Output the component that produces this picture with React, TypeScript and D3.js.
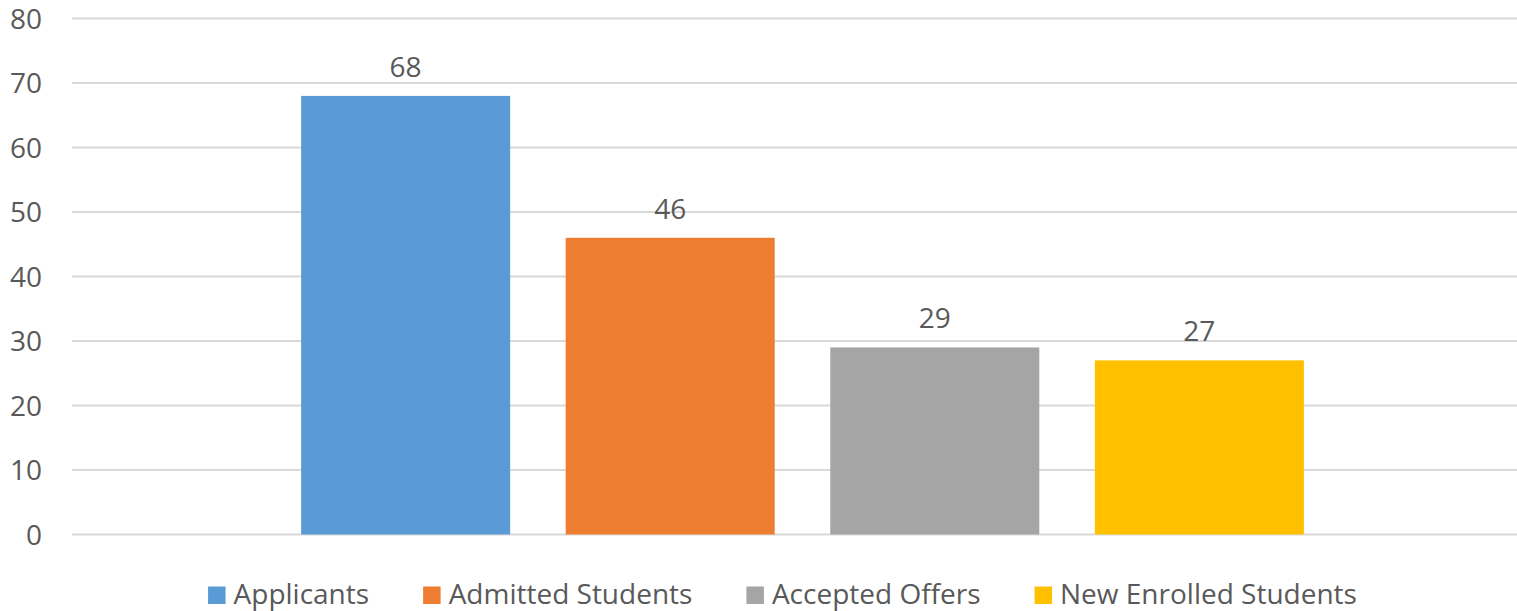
import React, { useEffect, useRef } from "react";
import * as d3 from "d3";

const seriesNames = ["Applicants", "Admitted Students", "Accepted Offers", "New Enrolled Students"];
const seriesValues = [68, 46, 29, 27];
const seriesColors = ["#5B9BD5", "#ED7D31", "#A5A5A5", "#FFC000"];
const yTicks = [0, 10, 20, 30, 40, 50, 60, 70, 80];

const W = 1517;
const H = 611;
const FONT = "'Open Sans', Lato, sans-serif";
const FS = 28;
const TEXT = "#595959";

export default function App() {
  const ref = useRef<SVGSVGElement | null>(null);

  useEffect(() => {
    document.body.style.margin = "0";
    const svg = d3.select(ref.current);
    svg.selectAll("*").remove();

    const plotLeft = 72;
    const plotRight = 1533;
    const y = d3.scaleLinear().domain([0, 80]).range([534.5, 18.5]);
    const x = d3
      .scaleBand<string>()
      .domain(seriesNames)
      .range([plotLeft, plotRight])
      .paddingInner(0.21)
      .paddingOuter(0.866);

    svg
      .append("g")
      .selectAll("line")
      .data(yTicks)
      .join("line")
      .attr("x1", plotLeft)
      .attr("x2", plotRight)
      .attr("y1", (d) => y(d))
      .attr("y2", (d) => y(d))
      .attr("stroke", "#D9D9D9")
      .attr("stroke-width", 2);

    svg
      .append("g")
      .selectAll("text")
      .data(yTicks)
      .join("text")
      .attr("x", 42)
      .attr("y", (d) => y(d))
      .attr("dy", "0.36em")
      .attr("text-anchor", "end")
      .attr("font-family", FONT)
      .attr("font-size", FS)
      .attr("fill", TEXT)
      .text((d) => String(d));

    svg
      .append("g")
      .selectAll("rect")
      .data(seriesNames)
      .join("rect")
      .attr("x", (d) => x(d)!)
      .attr("width", x.bandwidth())
      .attr("y", (_, i) => y(seriesValues[i]))
      .attr("height", (_, i) => y(0) - y(seriesValues[i]))
      .attr("fill", (_, i) => seriesColors[i]);

    svg
      .append("g")
      .selectAll("text")
      .data(seriesNames)
      .join("text")
      .attr("x", (d) => x(d)! + x.bandwidth() / 2)
      .attr("y", (_, i) => y(seriesValues[i]) - 19)
      .attr("text-anchor", "middle")
      .attr("font-family", FONT)
      .attr("font-size", FS)
      .attr("fill", TEXT)
      .text((_, i) => String(seriesValues[i]));

    const legend = svg.append("g");
    const sq = 17.5;
    const gapSqText = 8;
    const gapItems = 54;
    const items = seriesNames.map((name, i) => {
      const g = legend.append("g");
      g.append("rect")
        .attr("width", sq)
        .attr("height", sq)
        .attr("y", 586.5)
        .attr("fill", seriesColors[i]);
      const t = g
        .append("text")
        .attr("x", sq + gapSqText)
        .attr("y", 604)
        .attr("font-family", FONT)
        .attr("font-size", FS)
        .attr("fill", TEXT)
        .text(name);
      const tw = (t.node() as SVGTextElement).getComputedTextLength();
      return { g, w: sq + gapSqText + tw };
    });
    const total = d3.sum(items, (d) => d.w) + gapItems * (items.length - 1);
    let cx = 782.5 - total / 2;
    items.forEach((it) => {
      it.g.attr("transform", `translate(${cx},0)`);
      cx += it.w + gapItems;
    });
  }, []);

  return (
    <svg
      ref={ref}
      width={W}
      height={H}
      style={{ position: "absolute", left: 0, top: 0, background: "#fff" }}
    />
  );
}
